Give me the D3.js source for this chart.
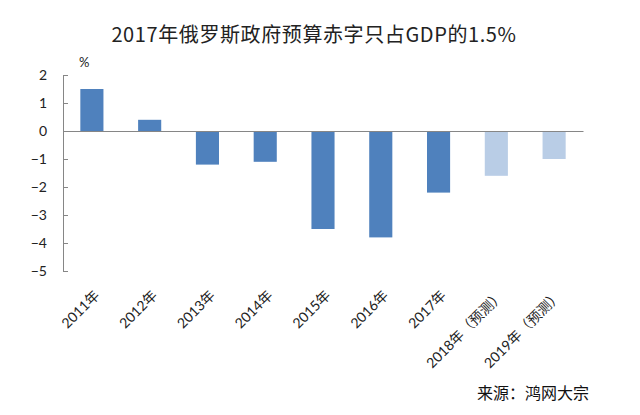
<!DOCTYPE html>
<html>
<head>
<meta charset="utf-8">
<script src="https://cdn.jsdelivr.net/npm/d3@7"></script>
<style>
  html, body { margin: 0; padding: 0; background: #ffffff; }
  svg { display: block; }
</style>
</head>
<body>
<svg id="chart" width="640" height="415"></svg>
<script>
// ---- data ----
const title = "2017年俄罗斯政府预算赤字只占GDP的1.5%";
const unitLabel = "%";
const sourceLabel = "来源：鸿网大宗";
const categories = ["2011年", "2012年", "2013年", "2014年", "2015年", "2016年", "2017年", "2018年（预测）", "2019年（预测）"];
const values = [1.5, 0.4, -1.2, -1.1, -3.5, -3.8, -2.2, -1.6, -1.0];
const isForecast = [false, false, false, false, false, false, false, true, true];
const yTicks = [2, 1, 0, -1, -2, -3, -4, -5];

// ---- layout ----
const svg = d3.select("#chart");
const plot = { left: 63, right: 583, top: 75, bottom: 271 };
const axisColor = "#868686";
const labelFont = "'Lato', 'Noto Sans CJK SC', sans-serif";

const x = d3.scaleBand()
  .domain(categories)
  .range([plot.left, plot.right])
  .paddingInner(0.6)
  .paddingOuter(0.3);

const y = d3.scaleLinear()
  .domain([-5, 2])
  .range([plot.bottom, plot.top]);

// title
svg.append("text")
  .attr("x", 314)
  .attr("y", 42)
  .attr("text-anchor", "middle")
  .attr("font-family", "'Noto Sans CJK SC', sans-serif")
  .attr("font-size", 20)
  .attr("letter-spacing", 0.6)
  .attr("fill", "#222")
  .text(title);

// unit label
svg.append("text")
  .attr("x", 79)
  .attr("y", 67)
  .attr("font-family", labelFont)
  .attr("font-size", 13)
  .attr("fill", "#222")
  .text(unitLabel);

// bars
svg.append("g").selectAll("rect")
  .data(values)
  .join("rect")
  .attr("x", (d, i) => x(categories[i]))
  .attr("width", x.bandwidth())
  .attr("y", d => y(Math.max(0, d)))
  .attr("height", d => Math.abs(y(d) - y(0)))
  .attr("fill", (d, i) => isForecast[i] ? "#b9cde6" : "#4f81bd");

// y axis
const yAxis = d3.axisLeft(y)
  .tickValues(yTicks)
  .tickFormat(d3.format("d"))
  .tickSizeInner(-5)
  .tickSizeOuter(0)
  .tickPadding(16);

const gy = svg.append("g")
  .attr("transform", `translate(${plot.left},0)`)
  .call(yAxis);
gy.select(".domain").attr("stroke", axisColor);
gy.selectAll(".tick line").attr("stroke", axisColor);
gy.selectAll(".tick text")
  .attr("font-family", labelFont)
  .attr("font-size", 14)
  .attr("fill", "#222");

// zero baseline (category axis)
const xAxis = d3.axisBottom(x).tickSize(0).tickFormat("");
const gx = svg.append("g")
  .attr("transform", `translate(0,${y(0)})`)
  .call(xAxis);
gx.select(".domain").attr("stroke", axisColor);

// rotated category labels at bottom of plot
svg.append("g").selectAll("text")
  .data(categories)
  .join("text")
  .attr("transform", d => `translate(${x(d) + x.bandwidth() / 2 + 5},${plot.bottom + 22}) rotate(-45)`)
  .attr("text-anchor", "end")
  .attr("dy", "0.35em")
  .attr("font-family", labelFont)
  .attr("font-size", 14)
  .attr("fill", "#222")
  .text(d => d);

// source
svg.append("text")
  .attr("x", 589)
  .attr("y", 399)
  .attr("text-anchor", "end")
  .attr("font-family", "'Noto Sans CJK SC', sans-serif")
  .attr("font-size", 16)
  .attr("fill", "#111")
  .text(sourceLabel);
</script>
</body>
</html>
